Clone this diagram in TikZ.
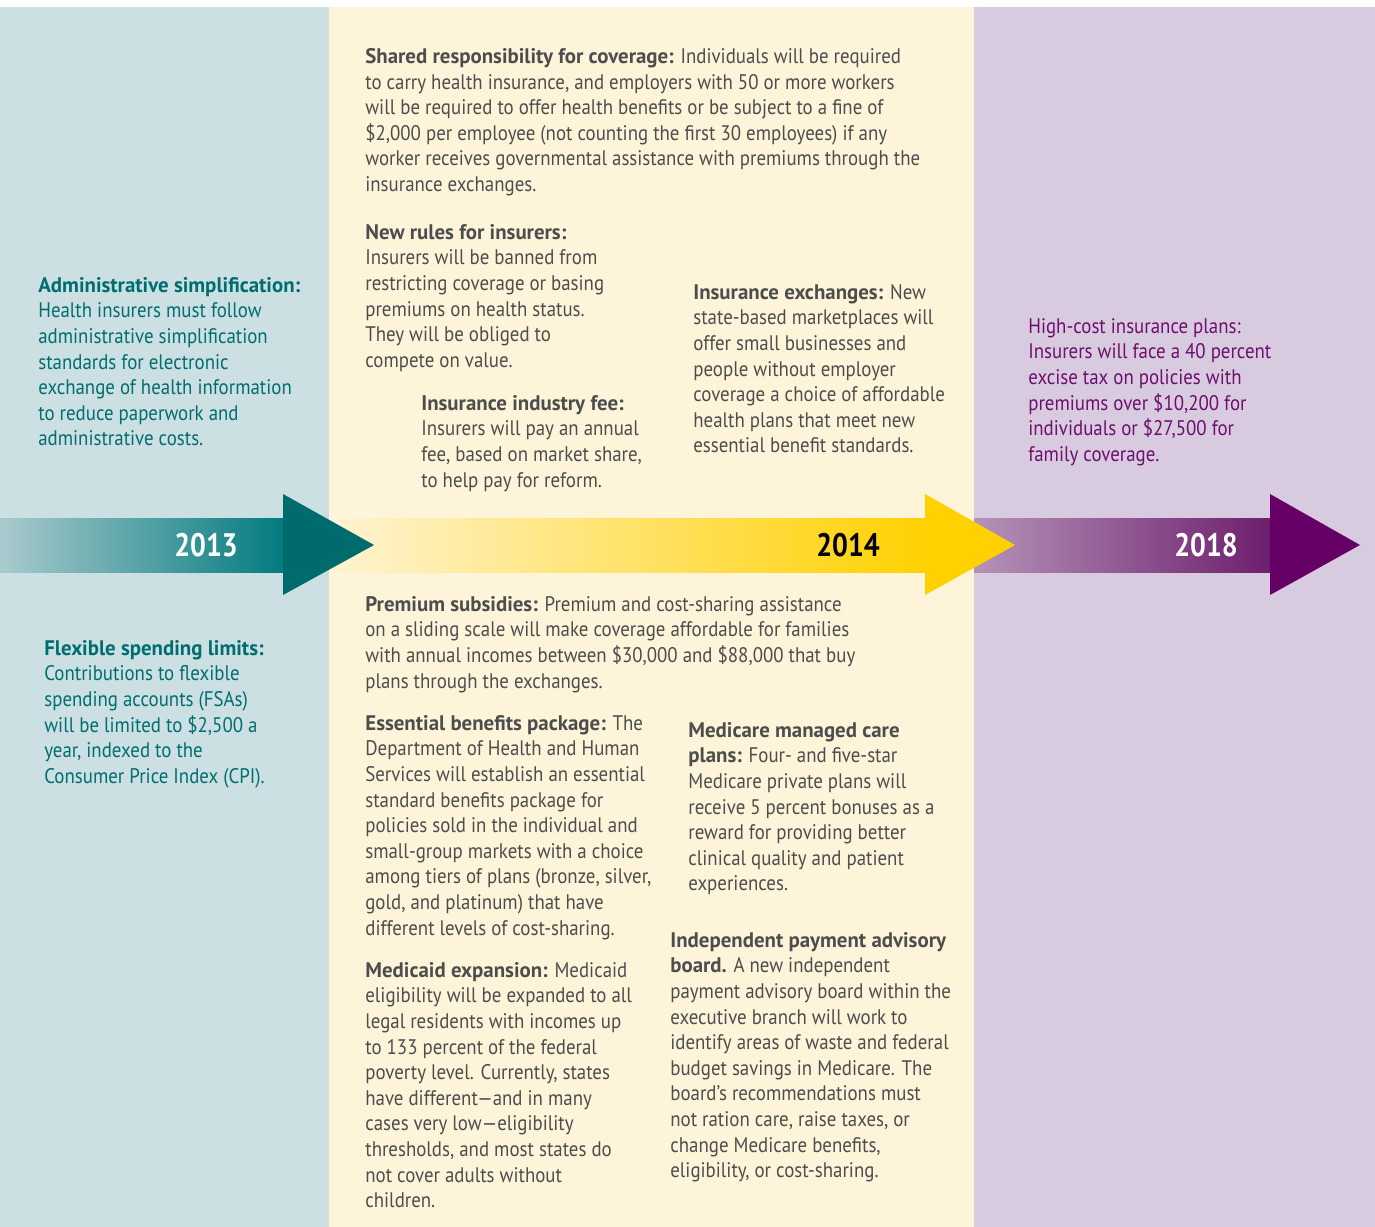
\documentclass[tikz,border=0pt]{standalone}
\usepackage{fontspec}
\setmainfont[UprightFeatures={FakeStretch=0.895}, BoldFeatures={FakeStretch=0.99}]{PT Sans}
\newfontfamily\yearfont[UprightFeatures={FakeStretch=0.86}, BoldFeatures={FakeStretch=0.86}]{PT Sans}
\usetikzlibrary{positioning}
\definecolor{tealbg}{HTML}{CCDFE2}
\definecolor{creambg}{HTML}{FEF4DA}
\definecolor{lilacbg}{HTML}{D9CBDF}
\definecolor{tealtxt}{HTML}{006E70}
\definecolor{graytxt}{HTML}{4D4D4D}
\definecolor{plumtxt}{HTML}{6E0E6E}
\definecolor{tealdark}{HTML}{006B6D}
\definecolor{tealmid}{HTML}{007A7E}
\definecolor{teallight}{HTML}{A9CACD}
\definecolor{goldlight}{HTML}{FFF3D0}
\definecolor{goldmid}{HTML}{FEE07E}
\definecolor{gold}{HTML}{FFD100}
\definecolor{plumlight}{HTML}{B493B8}
\definecolor{plummid}{HTML}{6C1D6C}
\definecolor{plumdark}{HTML}{660066}
\newcommand{\hd}[1]{\textbf{#1}}

\begin{document}
\begin{tikzpicture}[x=0.2mm, y=-0.2mm,
	blurb/.style={anchor=north west, inner sep=0pt, align=left, font=\fontsize{12}{14.57}\selectfont},
	year/.style={font=\fontsize{18.5}{20}\selectfont\yearfont\bfseries, inner sep=0pt}]
					\useasboundingbox (0,0) rectangle (1375,1227);
					\fill[white] (0,0) rectangle (1375,1227);
					\fill[tealbg] (0,7) rectangle (329,1227);
					\fill[creambg] (329,7) rectangle (974,1227);
					\fill[lilacbg] (974,7) rectangle (1375,1227);
					
					\shade[left color=goldlight, middle color=goldmid, right color=gold] (337,518) rectangle (930,572);
					\shade[left color=plumlight, right color=plummid] (974,518) rectangle (1275,572);
					\shade[left color=teallight, right color=tealmid] (0,518) rectangle (288,572);
					\fill[tealdark] (283,494) -- (374,545) -- (283,595) -- cycle;
					\fill[gold] (925,494) -- (1015,545) -- (925,595) -- cycle;
					\fill[plumdark] (1270,494) -- (1360,545) -- (1270,595) -- cycle;
					
					\node[year, text=white] (y13) at (206,545) {2013};
					\node[year, text=black] (y14) at (848,545) {2014};
					\node[year, text=white] (y18) at (1206,545) {2018};
					
					\node[blurb, text=tealtxt] (admin) at (38,277) {\hd{Administrative simplification:}\\
						Health insurers must follow\\
						administrative simplification\\
						standards for electronic\\
						exchange of health information\\
						to reduce paperwork and\\
						administrative costs.};
					\node[blurb, text=tealtxt] (flex) at (44,640) {\hd{Flexible spending limits:}\\
						Contributions to flexible\\
						spending accounts (FSAs)\\
						will be limited to \$2,500 a\\
						year, indexed to the\\
						Consumer Price Index (CPI).};
					
					\node[blurb, text=graytxt] (shared) at (365,48) {\hd{Shared responsibility for coverage:} Individuals will be required\\
						to carry health insurance, and employers with 50 or more workers\\
						will be required to offer health benefits or be subject to a fine of\\
						\$2,000 per employee (not counting the first 30 employees) if any\\
						worker receives governmental assistance with premiums through the\\
						insurance exchanges.};
					\node[blurb, text=graytxt] (rules) at (365,224) {\hd{New rules for insurers:}\\
						Insurers will be banned from\\
						restricting coverage or basing\\
						premiums on health status.\\
						They will be obliged to\\
						compete on value.};
					\node[blurb, text=graytxt] (fee) at (421,395) {\hd{Insurance industry fee:}\\
						Insurers will pay an annual\\
						fee, based on market share,\\
						to help pay for reform.};
					\node[blurb, text=graytxt] (exch) at (693,284) {\hd{Insurance exchanges:} New\\
						state-based marketplaces will\\
						offer small businesses and\\
						people without employer\\
						coverage a choice of affordable\\
						health plans that meet new\\
						essential benefit standards.};
					\node[blurb, text=plumtxt] (highcost) at (1028,318) {High-cost insurance plans:\\
						Insurers will face a 40 percent\\
						excise tax on policies with\\
						premiums over \$10,200 for\\
						individuals or \$27,500 for\\
						family coverage.};
					
					\node[blurb, text=graytxt] (subsid) at (365,596) {\hd{Premium subsidies:} Premium and cost-sharing assistance\\
						on a sliding scale will make coverage affordable for families\\
						with annual incomes between \$30,000 and \$88,000 that buy\\
						plans through the exchanges.};
					\node[blurb, text=graytxt] (benefits) at (365,715) {\hd{Essential benefits package:} The\\
						Department of Health and Human\\
						Services will establish an essential\\
						standard benefits package for\\
						policies sold in the individual and\\
						small-group markets with a choice\\
						among tiers of plans (bronze, silver,\\
						gold, and platinum) that have\\
						different levels of cost-sharing.};
					\node[blurb, text=graytxt] (medicaid) at (365,962) {\hd{Medicaid expansion:} Medicaid\\
						eligibility will be expanded to all\\
						legal residents with incomes up\\
						to 133 percent of the federal\\
						poverty level. Currently, states\\
						have different—and in many\\
						cases very low—eligibility\\
						thresholds, and most states do\\
						not cover adults without\\
						children.};
					\node[blurb, text=graytxt] (medicare) at (688,722) {\hd{Medicare managed care}\\
						\hd{plans:} Four- and five-star\\
						Medicare private plans will\\
						receive 5 percent bonuses as a\\
						reward for providing better\\
						clinical quality and patient\\
						experiences.};
					\node[blurb, text=graytxt] (ipab) at (670,932) {\hd{Independent payment advisory}\\
						\hd{board.} A new independent\\
						payment advisory board within the\\
						executive branch will work to\\
						identify areas of waste and federal\\
						budget savings in Medicare. The\\
						board’s recommendations must\\
						not ration care, raise taxes, or\\
						change Medicare benefits,\\
						eligibility, or cost-sharing.};
				\end{tikzpicture}
\end{document}
